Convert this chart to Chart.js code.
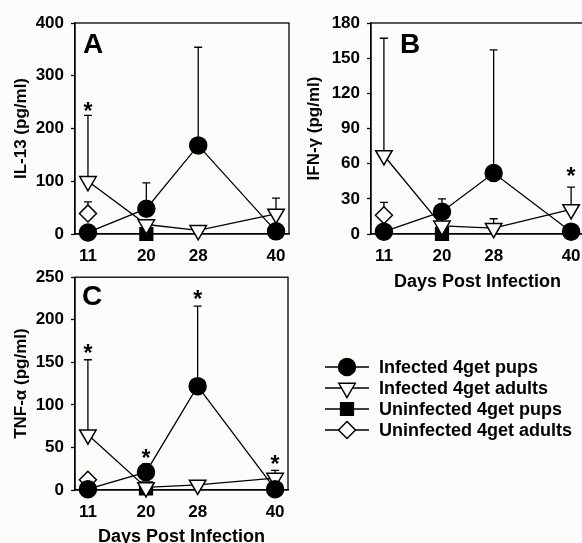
<!DOCTYPE html>
<html>
<head>
<meta charset="utf-8">
<script src="https://cdn.jsdelivr.net/npm/chart.js@4"></script>
<style>
  html, body { margin: 0; padding: 0; background: #fefcfb; overflow: hidden; width: 582px; height: 543px; }
  canvas { position: absolute; }
</style>
</head>
<body>
<canvas id="chartA" width="300" height="270" style="left:0;top:0;width:300px;height:270px"></canvas>
<canvas id="chartB" width="310" height="300" style="left:290px;top:0;width:310px;height:300px"></canvas>
<canvas id="chartC" width="582" height="290" style="left:0;top:260px;width:582px;height:290px"></canvas>
<script>
/* globals Chart:false */
const days = [11, 20, 28, 40];
const uninfPupDays = [20];
const uninfAdultDays = [11];
const seriesLabels = ["Infected 4get pups", "Infected 4get adults", "Uninfected 4get pups", "Uninfected 4get adults"];

// IL-13 (panel A); *Hi = top of the error bar
const il13Ticks = [0, 100, 200, 300, 400];
const il13InfPups = [3, 48, 168, 5];
const il13InfPupsHi = [null, 97, 354, null];
const il13InfAdults = [100, 18, 7, 38];
const il13InfAdultsHi = [225, null, null, 68];
const il13UninfPups = [0];
const il13UninfAdults = [39];
const il13UninfAdultsHi = [61];
const il13StarDays = [11];
const il13StarVals = [240];

// IFN-gamma (panel B)
const ifnTicks = [0, 30, 60, 90, 120, 150, 180];
const ifnInfPups = [2, 19, 52, 2];
const ifnInfPupsHi = [null, 30, 157, null];
const ifnInfAdults = [67, 7, 5, 21];
const ifnInfAdultsHi = [167, 9, 13, 40];
const ifnUninfPups = [0];
const ifnUninfAdults = [16];
const ifnUninfAdultsHi = [27];
const ifnStarDays = [40];
const ifnStarVals = [52];

// TNF-alpha (panel C)
const tnfTicks = [0, 50, 100, 150, 200, 250];
const tnfInfPups = [1, 21, 122, 1];
const tnfInfPupsHi = [null, 31, 216, null];
const tnfInfAdults = [65, 3, 6, 14];
const tnfInfAdultsHi = [153, null, null, 23];
const tnfUninfPups = [2];
const tnfUninfAdults = [12];
const tnfUninfAdultsHi = [null];
const tnfStarDays = [11, 20, 28, 40];
const tnfStarVals = [165, 42, 228, 35];

const FONT = "'Liberation Sans', Arial, sans-serif";

const styles = [
  { pointStyle: "circle", pointRadius: 8.5, pointRotation: 0, pointBackgroundColor: "#000" },
  { pointStyle: "triangle", pointRadius: 9.5, pointRotation: 180, pointBackgroundColor: "#fff" },
  { pointStyle: "rect", pointRadius: 9, pointRotation: 0, pointBackgroundColor: "#000" },
  { pointStyle: "rectRot", pointRadius: 8.5, pointRotation: 0, pointBackgroundColor: "#fff" },
];

function series(i, xs, ys, hi) {
  return Object.assign({
    label: seriesLabels[i],
    data: xs.map((d, k) => ({ x: d, y: ys[k] })),
    hi: hi,
    showLine: xs.length > 1,
    borderColor: "#000",
    borderWidth: 1.3,
    pointBorderColor: "#000",
    pointBorderWidth: 1.5,
    pointHoverRadius: styles[i].pointRadius,
    clip: false,
  }, styles[i]);
}

const panelExtras = {
  id: "panelExtras",
  beforeDatasetsDraw(chart) {
    const { ctx, chartArea: a, scales: { x, y } } = chart;
    ctx.save();
    ctx.strokeStyle = "#000";
    ctx.lineWidth = 1.3;
    ctx.strokeRect(a.left, a.top, a.right - a.left, a.bottom - a.top);
    chart.data.datasets.forEach((ds) => {
      if (!ds.hi) return;
      ds.data.forEach((p, k) => {
        const hi = ds.hi[k];
        if (hi == null) return;
        const px = x.getPixelForValue(p.x);
        const y0 = y.getPixelForValue(p.y);
        const y1 = y.getPixelForValue(hi);
        ctx.beginPath();
        ctx.moveTo(px, y0);
        ctx.lineTo(px, y1);
        ctx.moveTo(px - 4, y1);
        ctx.lineTo(px + 4, y1);
        ctx.stroke();
      });
    });
    ctx.restore();
  },
  afterDraw(chart, args, opts) {
    const { ctx, chartArea: a, scales: { x, y } } = chart;
    ctx.save();
    ctx.fillStyle = "#000";
    // panel letter
    ctx.font = "bold 28px " + FONT;
    ctx.textAlign = "left";
    ctx.textBaseline = "alphabetic";
    ctx.fillText(opts.letter, a.left + opts.letterX, a.top + opts.letterY);
    // significance stars
    ctx.font = "bold 23px " + FONT;
    ctx.textAlign = "center";
    ctx.textBaseline = "middle";
    opts.starDays.forEach((d, k) => {
      ctx.fillText("*", x.getPixelForValue(d), y.getPixelForValue(opts.starVals[k]) + 5);
    });
    // legend
    const lg = opts.legend;
    if (lg) {
      chart.data.datasets.forEach((ds, k) => {
        const ly = lg.y0 + k * lg.dy;
        ctx.strokeStyle = "#000";
        ctx.lineWidth = 1.3;
        ctx.beginPath();
        ctx.moveTo(lg.x0, ly);
        ctx.lineTo(lg.x1, ly);
        ctx.stroke();
        ctx.fillStyle = ds.pointBackgroundColor;
        ctx.lineWidth = 1.5;
        Chart.helpers.drawPoint(ctx, {
          pointStyle: ds.pointStyle,
          rotation: ds.pointRotation,
          radius: ds.pointRadius,
          borderWidth: 1.5,
        }, (lg.x0 + lg.x1) / 2, ly);
        ctx.fillStyle = "#000";
        ctx.font = "bold 18px " + FONT;
        ctx.textAlign = "left";
        ctx.textBaseline = "middle";
        ctx.fillText(ds.label, lg.textX, ly + 1);
      });
    }
    ctx.restore();
  },
};

function makeChart(id, p) {
  const ctx = document.getElementById(id).getContext("2d");
  return new Chart(ctx, {
    type: "scatter",
    data: { datasets: p.datasets },
    plugins: [panelExtras],
    options: {
      responsive: false,
      animation: false,
      events: [],
      layout: { padding: p.pad },
      plugins: {
        legend: { display: false },
        tooltip: { enabled: false },
        panelExtras: p.extras,
      },
      scales: {
        x: {
          type: "linear",
          min: 9,
          max: 42,
          afterBuildTicks: (s) => { s.ticks = days.map((v) => ({ value: v })); },
          afterFit: (s) => { s.height = p.xHeight; },
          grid: { drawOnChartArea: false, drawTicks: false },
          border: { color: "#000", width: 1.3 },
          ticks: { color: "#000", font: { family: FONT, size: 17, weight: "bold" }, padding: 12, autoSkip: false, maxRotation: 0 },
          title: {
            display: !!p.xTitle,
            text: p.xTitle || "",
            color: "#000",
            font: { family: FONT, size: 18, weight: "bold" },
            padding: { top: 0, bottom: 0 },
          },
        },
        y: {
          type: "linear",
          min: 0,
          max: p.yTicks[p.yTicks.length - 1],
          afterBuildTicks: (s) => { s.ticks = p.yTicks.map((v) => ({ value: v })); },
          afterFit: (s) => { s.width = p.yWidth; },
          grid: { drawOnChartArea: false, tickLength: 4, tickColor: "#000", tickWidth: 1.3 },
          border: { color: "#000", width: 1.3 },
          ticks: { color: "#000", font: { family: FONT, size: 17, weight: "bold" }, padding: 7, autoSkip: false },
          title: {
            display: true,
            text: p.yTitle,
            color: "#000",
            font: { family: FONT, size: 17, weight: "bold" },
            padding: { top: 3, bottom: 0 },
          },
        },
      },
    },
  });
}

document.addEventListener("DOMContentLoaded", () => {
  makeChart("chartA", {
    datasets: [
      series(0, days, il13InfPups, il13InfPupsHi),
      series(1, days, il13InfAdults, il13InfAdultsHi),
      series(2, uninfPupDays, il13UninfPups, null),
      series(3, uninfAdultDays, il13UninfAdults, il13UninfAdultsHi),
    ],
    pad: { left: 8, top: 23, right: 11, bottom: 0 },
    yWidth: 67,
    xHeight: 36,
    yTicks: il13Ticks,
    yTitle: "IL-13 (pg/ml)",
    extras: { letter: "A", letterX: 8, letterY: 30, starDays: il13StarDays, starVals: il13StarVals },
  });

  makeChart("chartB", {
    datasets: [
      series(0, days, ifnInfPups, ifnInfPupsHi),
      series(1, days, ifnInfAdults, ifnInfAdultsHi),
      series(2, uninfPupDays, ifnUninfPups, null),
      series(3, uninfAdultDays, ifnUninfAdults, ifnUninfAdultsHi),
    ],
    pad: { left: 11, top: 23, right: 16, bottom: 7 },
    yWidth: 70,
    xHeight: 59,
    yTicks: ifnTicks,
    yTitle: "IFN-\u03b3 (pg/ml)",
    xTitle: "Days Post Infection",
    extras: { letter: "B", letterX: 29, letterY: 30, starDays: ifnStarDays, starVals: ifnStarVals },
  });

  makeChart("chartC", {
    datasets: [
      series(0, days, tnfInfPups, tnfInfPupsHi),
      series(1, days, tnfInfAdults, tnfInfAdultsHi),
      series(2, uninfPupDays, tnfUninfPups, null),
      series(3, uninfAdultDays, tnfUninfAdults, tnfUninfAdultsHi),
    ],
    pad: { left: 8, top: 17, right: 294, bottom: 2 },
    yWidth: 67,
    xHeight: 58,
    yTicks: tnfTicks,
    yTitle: "TNF-\u03b1 (pg/ml)",
    xTitle: "Days Post Infection",
    extras: {
      letter: "C", letterX: 7, letterY: 28, starDays: tnfStarDays, starVals: tnfStarVals,
      legend: { x0: 325, x1: 369, textX: 379, y0: 107, dy: 21 },
    },
  });
});
</script>
</body>
</html>
